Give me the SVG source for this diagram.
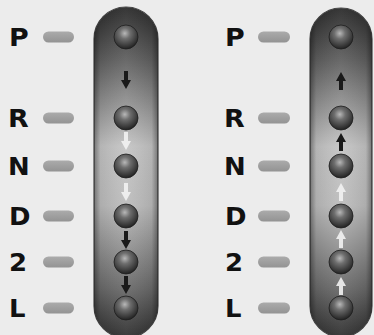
<svg xmlns="http://www.w3.org/2000/svg" width="374" height="335" viewBox="0 0 374 335">
<defs>
<linearGradient id="slotV" x1="0" y1="0" x2="0" y2="1">
<stop offset="0" stop-color="#2a2a2a"/>
<stop offset="0.16" stop-color="#606060"/>
<stop offset="0.42" stop-color="#c4c4c4"/>
<stop offset="0.6" stop-color="#bcbcbc"/>
<stop offset="0.85" stop-color="#6a6a6a"/>
<stop offset="1" stop-color="#2e2e2e"/>
</linearGradient>
<linearGradient id="slotH" x1="0" y1="0" x2="1" y2="0">
<stop offset="0" stop-color="#000" stop-opacity="0.4"/>
<stop offset="0.1" stop-color="#000" stop-opacity="0.08"/>
<stop offset="0.5" stop-color="#fff" stop-opacity="0.06"/>
<stop offset="0.9" stop-color="#000" stop-opacity="0.08"/>
<stop offset="1" stop-color="#000" stop-opacity="0.4"/>
</linearGradient>
<radialGradient id="knob" cx="0.45" cy="0.35" r="0.65">
<stop offset="0" stop-color="#b8b8b8"/>
<stop offset="0.35" stop-color="#6e6e6e"/>
<stop offset="0.8" stop-color="#3a3a3a"/>
<stop offset="1" stop-color="#222"/>
</radialGradient>
<linearGradient id="pill" x1="0" y1="0" x2="0" y2="1">
<stop offset="0" stop-color="#ababab"/>
<stop offset="1" stop-color="#939393"/>
</linearGradient>
<circle id="k" r="12" fill="url(#knob)" stroke="#1e1e1e" stroke-width="0.8"/>
<path id="down" d="M-2,-9 H2 V0 H5 L0,9 L-5,0 H-2 Z"/>
<path id="up" d="M-2,9 H2 V0 H5 L0,-9 L-5,0 H-2 Z"/>
</defs>
<style>
.lbl{font-family:"DejaVu Sans","Liberation Sans",sans-serif;font-weight:bold;font-size:24px;fill:#111}
.pill{fill:url(#pill)}
.blk{fill:#1a1a1a}
.wht{fill:#f2f2f2;opacity:0.9}
</style>
<rect width="374" height="335" fill="#ececec"/>

<g id="slot-left">
<path d="M94,39 A32,32 0 0 1 158,39 V306 A32,32 0 0 1 94,306 Z" fill="url(#slotV)" stroke="#444" stroke-width="1.2"/>
<path d="M94,39 A32,32 0 0 1 158,39 V306 A32,32 0 0 1 94,306 Z" fill="url(#slotH)"/>
</g>
<g id="slot-right">
<path d="M310,39 A31,31 0 0 1 372,39 V306 A31,31 0 0 1 310,306 Z" fill="url(#slotV)" stroke="#444" stroke-width="1.2"/>
<path d="M310,39 A31,31 0 0 1 372,39 V306 A31,31 0 0 1 310,306 Z" fill="url(#slotH)"/>
</g>

<g id="labels-left">
<g id="lP"><text class="lbl" transform="translate(9,45.5) scale(1.12,1)">P</text><rect class="pill" x="43" y="31.5" width="31" height="11" rx="5.5"/></g>
<g id="lR"><text class="lbl" transform="translate(8,126.5) scale(1.12,1)">R</text><rect class="pill" x="43" y="112.5" width="31" height="11" rx="5.5"/></g>
<g id="lN"><text class="lbl" transform="translate(8,174.5) scale(1.08,1)">N</text><rect class="pill" x="43" y="160.5" width="31" height="11" rx="5.5"/></g>
<g id="lD"><text class="lbl" transform="translate(9,224.5) scale(1.08,1)">D</text><rect class="pill" x="43" y="210.5" width="31" height="11" rx="5.5"/></g>
<g id="l2"><text class="lbl" transform="translate(9,270.5) scale(1.08,1)">2</text><rect class="pill" x="43" y="256.5" width="31" height="11" rx="5.5"/></g>
<g id="lL"><text class="lbl" transform="translate(9,316.5) scale(1.08,1)">L</text><rect class="pill" x="43" y="302.5" width="31" height="11" rx="5.5"/></g>
</g>
<g id="labels-right">
<g id="rP"><text class="lbl" transform="translate(225,45.5) scale(1.12,1)">P</text><rect class="pill" x="258" y="31.5" width="32" height="11" rx="5.5"/></g>
<g id="rR"><text class="lbl" transform="translate(224,126.5) scale(1.12,1)">R</text><rect class="pill" x="258" y="112.5" width="32" height="11" rx="5.5"/></g>
<g id="rN"><text class="lbl" transform="translate(224,174.5) scale(1.08,1)">N</text><rect class="pill" x="258" y="160.5" width="32" height="11" rx="5.5"/></g>
<g id="rD"><text class="lbl" transform="translate(225,224.5) scale(1.08,1)">D</text><rect class="pill" x="258" y="210.5" width="32" height="11" rx="5.5"/></g>
<g id="r2"><text class="lbl" transform="translate(225,270.5) scale(1.08,1)">2</text><rect class="pill" x="258" y="256.5" width="32" height="11" rx="5.5"/></g>
<g id="rL"><text class="lbl" transform="translate(225,316.5) scale(1.08,1)">L</text><rect class="pill" x="258" y="302.5" width="32" height="11" rx="5.5"/></g>
</g>

<g id="connectors">
<use href="#down" class="blk" x="126" y="80"/>
<use href="#down" class="wht" x="126" y="141"/>
<use href="#down" class="wht" x="126" y="192"/>
<use href="#down" class="blk" x="126" y="240"/>
<use href="#down" class="blk" x="126" y="285"/>
<use href="#up" class="blk" x="341" y="81"/>
<use href="#up" class="blk" x="341" y="142"/>
<use href="#up" class="wht" x="341" y="192"/>
<use href="#up" class="wht" x="341" y="239"/>
<use href="#up" class="wht" x="341" y="286"/>
</g>

<g id="knob-left-P"><use href="#k" x="126" y="37"/></g>
<g id="knob-left-R"><use href="#k" x="126" y="118"/></g>
<g id="knob-left-N"><use href="#k" x="126" y="166"/></g>
<g id="knob-left-D"><use href="#k" x="126" y="216"/></g>
<g id="knob-left-2"><use href="#k" x="126" y="262"/></g>
<g id="knob-left-L"><use href="#k" x="126" y="308"/></g>
<g id="knob-right-P"><use href="#k" x="341" y="37"/></g>
<g id="knob-right-R"><use href="#k" x="341" y="118"/></g>
<g id="knob-right-N"><use href="#k" x="341" y="166"/></g>
<g id="knob-right-D"><use href="#k" x="341" y="216"/></g>
<g id="knob-right-2"><use href="#k" x="341" y="262"/></g>
<g id="knob-right-L"><use href="#k" x="341" y="308"/></g>
</svg>
